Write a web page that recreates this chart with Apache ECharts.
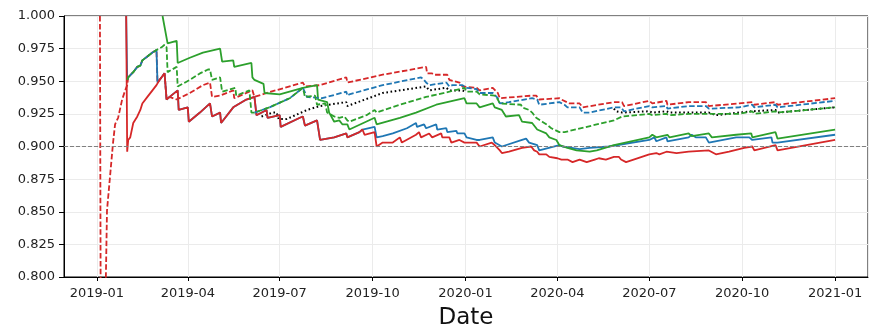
<!DOCTYPE html>
<html>
<head>
<meta charset="utf-8">
<script src="https://cdn.jsdelivr.net/npm/echarts@6/dist/echarts.min.js"></script>
<style>
html,body{margin:0;padding:0;background:#fff;}
#chart{width:870px;height:335px;}
</style>
</head>
<body>
<div id="chart"></div>
<script>
// Each pair: [days since 2019-01-01, value]
const redSolid = [[29,1.000],[30,0.896],[31,0.905],[33,0.907],[36,0.918],[40,0.923],[43,0.928],[45,0.933],[50,0.938],[55,0.943],[59,0.947],[62,0.951],[67,0.956],[69,0.936],[72,0.938],[80,0.943],[81,0.928],[90,0.930],[91,0.919],[102,0.926],[112,0.933],[114,0.923],[122,0.926],[123,0.918],[135,0.930],[148,0.936],[156,0.938],[158,0.924],[168,0.928],[169,0.922],[181,0.924],[182,0.915],[201,0.922],[204,0.923],[206,0.916],[218,0.920],[221,0.905],[235,0.907],[247,0.910],[248,0.907],[260,0.911],[263,0.913],[265,0.909],[275,0.911],[277,0.900],[283,0.903],[293,0.903],[300,0.907],[302,0.903],[316,0.909],[319,0.911],[321,0.907],[329,0.910],[332,0.907],[341,0.910],[342,0.907],[349,0.907],[351,0.903],[359,0.905],[364,0.903],[376,0.903],[379,0.900],[391,0.903],[394,0.901],[399,0.897],[401,0.895],[408,0.896],[421,0.899],[430,0.900],[433,0.897],[436,0.896],[438,0.894],[445,0.894],[448,0.892],[456,0.891],[460,0.890],[466,0.890],[471,0.888],[478,0.890],[485,0.888],[493,0.890],[497,0.891],[504,0.890],[512,0.892],[517,0.892],[519,0.890],[524,0.888],[547,0.894],[554,0.895],[557,0.894],[564,0.896],[574,0.895],[586,0.896],[606,0.897],[613,0.894],[626,0.896],[641,0.899],[649,0.900],[651,0.897],[672,0.901],[674,0.897],[731,0.905]];

const blueSolid = [[29,1.000],[30,0.951],[31,0.953],[36,0.957],[40,0.961],[43,0.962],[45,0.966],[50,0.969],[55,0.972],[59,0.974],[60,0.949],[62,0.951],[67,0.956],[69,0.936],[72,0.938],[80,0.943],[81,0.928],[90,0.930],[91,0.919],[102,0.926],[112,0.933],[114,0.923],[122,0.926],[123,0.918],[135,0.930],[148,0.936],[156,0.938],[158,0.924],[168,0.928],[169,0.922],[181,0.924],[182,0.915],[201,0.922],[204,0.923],[206,0.916],[218,0.920],[221,0.905],[235,0.907],[247,0.910],[248,0.907],[260,0.911],[263,0.913],[275,0.915],[277,0.907],[283,0.908],[293,0.910],[307,0.914],[316,0.918],[317,0.915],[324,0.917],[326,0.914],[336,0.917],[337,0.913],[346,0.914],[347,0.911],[356,0.912],[357,0.910],[364,0.910],[366,0.907],[376,0.905],[379,0.905],[392,0.907],[394,0.903],[401,0.900],[421,0.905],[425,0.906],[428,0.903],[436,0.901],[438,0.897],[458,0.901],[461,0.900],[478,0.898],[488,0.899],[507,0.900],[547,0.905],[552,0.907],[554,0.904],[564,0.907],[565,0.904],[586,0.907],[589,0.909],[593,0.907],[603,0.907],[606,0.903],[633,0.907],[646,0.907],[649,0.905],[668,0.907],[669,0.903],[674,0.903],[731,0.909]];

const greenSolid = [[65,1.000],[70,0.979],[79,0.981],[80,0.964],[92,0.968],[105,0.972],[122,0.975],[124,0.965],[135,0.966],[136,0.961],[153,0.964],[154,0.953],[156,0.951],[165,0.948],[166,0.941],[181,0.940],[204,0.945],[218,0.947],[219,0.936],[228,0.934],[230,0.926],[235,0.919],[240,0.920],[243,0.917],[248,0.917],[250,0.913],[275,0.922],[277,0.917],[300,0.922],[316,0.926],[336,0.932],[364,0.937],[366,0.933],[376,0.933],[379,0.930],[392,0.933],[394,0.930],[401,0.928],[405,0.923],[418,0.924],[421,0.919],[431,0.918],[436,0.913],[445,0.910],[448,0.907],[455,0.905],[458,0.901],[466,0.899],[475,0.897],[488,0.896],[495,0.897],[512,0.901],[547,0.907],[550,0.909],[554,0.907],[565,0.909],[567,0.907],[586,0.910],[589,0.908],[606,0.910],[609,0.907],[633,0.909],[648,0.910],[649,0.907],[672,0.911],[674,0.906],[731,0.913]];

const redDashed = [[3,1.000],[4,0.700],[8,0.760],[10,0.851],[13,0.877],[16,0.903],[18,0.917],[21,0.922],[25,0.936],[28,0.943],[30,0.947],[31,0.953],[36,0.957],[40,0.961],[43,0.962],[45,0.966],[50,0.969],[55,0.972],[59,0.974],[60,0.949],[62,0.951],[67,0.956],[69,0.936],[72,0.938],[79,0.936],[92,0.941],[105,0.947],[112,0.949],[114,0.938],[122,0.939],[135,0.943],[136,0.937],[154,0.943],[156,0.938],[168,0.941],[204,0.949],[206,0.946],[221,0.947],[247,0.953],[248,0.949],[283,0.955],[326,0.961],[327,0.956],[332,0.956],[334,0.955],[347,0.955],[349,0.951],[359,0.949],[362,0.946],[376,0.945],[379,0.943],[392,0.945],[397,0.941],[399,0.937],[431,0.939],[435,0.939],[438,0.936],[458,0.937],[460,0.936],[468,0.933],[478,0.933],[481,0.930],[512,0.934],[520,0.934],[522,0.931],[547,0.935],[550,0.933],[564,0.935],[565,0.932],[586,0.934],[603,0.934],[606,0.931],[636,0.933],[649,0.934],[651,0.932],[672,0.934],[674,0.932],[731,0.937]];

const blueDashed = [[156,0.926],[171,0.930],[191,0.937],[204,0.945],[208,0.938],[223,0.937],[247,0.942],[248,0.939],[250,0.940],[283,0.947],[321,0.953],[324,0.951],[326,0.949],[329,0.947],[346,0.949],[349,0.946],[352,0.947],[362,0.947],[366,0.945],[376,0.944],[379,0.941],[392,0.941],[397,0.937],[399,0.933],[408,0.934],[431,0.937],[436,0.936],[438,0.932],[458,0.934],[463,0.932],[466,0.930],[478,0.930],[481,0.926],[488,0.926],[512,0.930],[519,0.930],[522,0.927],[547,0.931],[550,0.930],[564,0.931],[565,0.929],[586,0.931],[603,0.931],[606,0.929],[636,0.930],[649,0.932],[651,0.930],[672,0.932],[674,0.930],[731,0.935]];

const greenDashed = [[30,0.951],[31,0.953],[36,0.957],[40,0.961],[43,0.962],[45,0.966],[50,0.969],[55,0.972],[59,0.974],[64,0.976],[67,0.978],[69,0.976],[70,0.957],[79,0.961],[80,0.946],[92,0.951],[102,0.956],[110,0.959],[112,0.959],[114,0.951],[122,0.953],[124,0.942],[137,0.945],[138,0.939],[151,0.943],[153,0.926],[156,0.926],[171,0.930],[191,0.937],[204,0.945],[206,0.938],[216,0.939],[218,0.932],[226,0.933],[228,0.926],[235,0.923],[240,0.922],[245,0.923],[248,0.920],[250,0.919],[267,0.924],[275,0.928],[277,0.926],[300,0.932],[326,0.938],[349,0.942],[364,0.945],[366,0.942],[376,0.942],[379,0.940],[394,0.939],[397,0.936],[399,0.933],[420,0.932],[421,0.930],[428,0.928],[431,0.926],[435,0.922],[441,0.919],[445,0.917],[450,0.914],[458,0.911],[463,0.911],[512,0.920],[520,0.923],[547,0.925],[550,0.924],[564,0.925],[567,0.924],[586,0.925],[606,0.925],[636,0.925],[649,0.927],[651,0.925],[672,0.927],[674,0.926],[731,0.930]];

const blackDotted = [[163,0.923],[174,0.926],[178,0.926],[180,0.921],[188,0.921],[208,0.928],[221,0.931],[247,0.934],[248,0.931],[283,0.941],[326,0.946],[329,0.943],[346,0.945],[349,0.943],[362,0.943],[366,0.942],[367,null],[512,0.929],[514,0.927],[520,0.926],[547,0.927],[550,0.926],[564,0.927],[567,0.926],[586,0.926],[606,0.926],[613,0.924],[636,0.926],[649,0.927],[672,0.928],[674,0.926],[731,0.930]];

const yTicks = [0.800, 0.825, 0.850, 0.875, 0.900, 0.925, 0.950, 0.975, 1.000];
const targetLevel = 0.9;

const DAY = 86400000;
const T0 = Date.UTC(2019, 0, 1);
function toData(arr) { return arr.map(p => [T0 + p[0] * DAY, p[1]]); }

const BLUE = '#1f77b4', GREEN = '#2ca02c', RED = '#d62728';
const LW = 1.8;
function mk(name, data, color, type) {
  return {
    name: name, type: 'line', data: toData(data), showSymbol: false, symbol: 'none',
    connectNulls: false, clip: true, animation: false,
    lineStyle: { color: color, width: type === 'dotted' ? 2 : LW, type: type === 'dashed' ? [5.5, 2.4] : (type === 'dotted' ? [1.6, 2.6] : 'solid'), cap: 'butt' },
    emphasis: { disabled: true }
  };
}

const chart = echarts.init(document.getElementById('chart'), null, { renderer: 'canvas' });
const series = [
  mk('redDashed', redDashed, RED, 'dashed'),
  mk('blackDotted', blackDotted, '#000000', 'dotted'),
  mk('blueSolid', blueSolid, BLUE, 'solid'),
  mk('greenSolid', greenSolid, GREEN, 'solid'),
  mk('redSolid', redSolid, RED, 'solid'),
  mk('blueDashed', blueDashed, BLUE, 'dashed'),
  mk('greenDashed', greenDashed, GREEN, 'dashed')
];
series[0].markLine = {
  silent: true, symbol: 'none', label: { show: false }, animation: false,
  lineStyle: { color: '#808080', type: [4, 2], width: 1 },
  data: [{ yAxis: targetLevel }]
};

chart.setOption({
  useUTC: true,
  animation: false,
  backgroundColor: '#ffffff',
  textStyle: { fontFamily: 'DejaVu Sans' },
  grid: { left: 64, right: 2, top: 16, bottom: 58, show: true, borderColor: '#000', borderWidth: 1, backgroundColor: 'transparent', containLabel: false, outerBoundsMode: 'none' },
  xAxis: {
    type: 'time',
    min: Date.UTC(2018, 10, 29, 10),
    max: Date.UTC(2021, 1, 2, 14),
    splitNumber: 5,
    name: 'Date', nameLocation: 'middle', nameGap: 30,
    nameTextStyle: { fontSize: 23, color: '#111', fontFamily: 'DejaVu Sans' },
    axisLine: { show: true, lineStyle: { color: '#000', width: 1 } },
    axisTick: { show: true, length: 4, lineStyle: { color: '#000' } },
    axisLabel: { formatter: '{yyyy}-{MM}', fontSize: 13, color: '#222', margin: 10, fontFamily: 'DejaVu Sans' },
    splitLine: { show: true, lineStyle: { color: '#ebebeb', width: 1 } },
    minorTick: { show: false }
  },
  yAxis: {
    type: 'value', min: yTicks[0], max: yTicks[yTicks.length - 1], interval: 0.025,
    axisLine: { show: true, lineStyle: { color: '#000', width: 1 } },
    axisTick: { show: true, length: 5, lineStyle: { color: '#000' } },
    axisLabel: { formatter: v => v.toFixed(3), fontSize: 13, color: '#222', margin: 9, fontFamily: 'DejaVu Sans' },
    splitLine: { show: true, lineStyle: { color: '#ebebeb', width: 1 } }
  },
  series: series
});
</script>
</body>
</html>
